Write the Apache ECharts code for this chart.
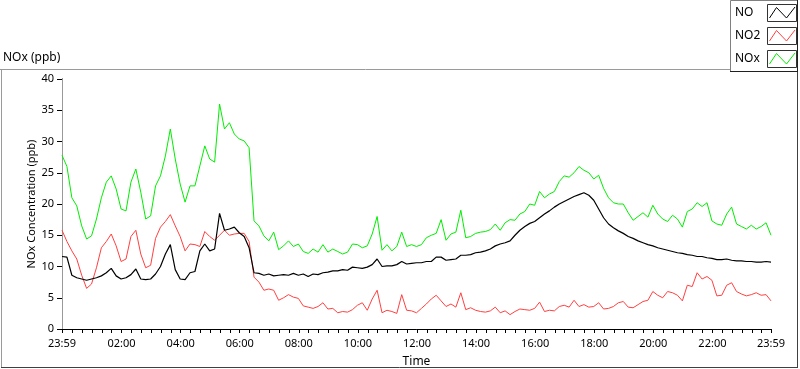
<!DOCTYPE html>
<html><head><meta charset="utf-8">
<script src="https://cdn.jsdelivr.net/npm/echarts@6/dist/echarts.min.js"></script>
<style>html,body{margin:0;padding:0;background:#fff}#c{width:800px;height:369px}</style>
</head><body><div id="c"></div>
<script>
// ---- data ----
const seriesNames = ['NO', 'NO2', 'NOx'];
const stepMinutes = 10; // samples every 10 min, starting at 23:59
const noxValues = [
  27.8, 26.0, 21.0, 19.7, 16.5, 14.4, 14.9, 17.6, 21.0, 23.5,
  24.5, 22.4, 19.2, 18.9, 23.5, 25.6, 21.9, 17.6, 18.1, 22.9,
  24.5, 27.7, 32.0, 27.2, 23.2, 20.3, 22.9, 22.9, 26.1, 29.3,
  27.2, 26.7, 36.0, 32.0, 33.0, 31.2, 30.4, 30.1, 29.0, 17.3,
  16.5, 14.9, 14.1, 15.5, 12.7, 13.3, 14.1, 13.2, 13.6, 12.4,
  12.1, 12.8, 12.3, 13.5, 12.3, 12.8, 12.4, 12.0, 12.3, 13.6,
  13.5, 13.0, 13.3, 15.2, 18.0, 12.6, 13.5, 12.5, 13.2, 15.5,
  13.2, 13.5, 13.2, 13.5, 14.6, 15.0, 15.3, 17.5, 14.2, 15.2,
  15.5, 19.0, 14.6, 14.8, 15.3, 15.5, 15.6, 15.9, 16.8, 15.8,
  17.0, 17.5, 17.4, 18.4, 18.8, 20.0, 19.8, 22.0, 21.0, 21.6,
  22.0, 23.6, 24.5, 24.3, 25.0, 26.0, 25.4, 25.0, 24.0, 24.6,
  22.5, 21.0, 20.2, 20.0, 20.0, 18.6, 17.4, 18.0, 18.6, 17.9,
  19.8, 18.4, 17.6, 17.2, 18.2, 17.6, 16.3, 18.8, 19.2, 20.2,
  19.6, 20.2, 17.3, 16.8, 16.6, 18.4, 19.5, 16.8, 16.4, 16.0,
  16.6, 16.0, 16.4, 17.0, 15.0
];
const noValues = [
  11.6, 11.5, 8.6, 8.2, 8.0, 7.8, 8.0, 8.2, 8.5, 9.0,
  9.7, 8.5, 8.0, 8.2, 8.7, 9.6, 8.0, 7.9, 8.0, 8.8,
  10.0, 12.0, 13.5, 9.5, 8.0, 7.9, 9.0, 9.2, 12.5, 13.6,
  12.5, 12.8, 18.5, 15.8, 16.0, 16.3, 15.4, 14.8, 13.0, 9.0,
  8.9, 8.6, 8.8, 8.5, 8.6, 8.7, 8.6, 8.9, 8.6, 8.8,
  8.4, 8.8, 8.7, 9.0, 9.1, 9.3, 9.3, 9.5, 9.4, 9.9,
  9.8, 9.7, 9.9, 10.3, 11.2, 10.0, 10.1, 10.1, 10.3, 10.8,
  10.4, 10.5, 10.6, 10.6, 10.8, 10.8, 11.5, 11.5, 11.0, 11.1,
  11.2, 11.8, 11.8, 11.9, 12.2, 12.3, 12.5, 12.8, 13.3, 13.6,
  13.8, 14.1, 15.0, 15.8, 16.4, 16.9, 17.2, 17.8, 18.4, 18.9,
  19.5, 20.0, 20.4, 20.8, 21.2, 21.5, 21.8, 21.4, 20.6, 19.2,
  17.8, 16.8, 16.2, 15.7, 15.3, 14.8, 14.5, 14.1, 13.8, 13.5,
  13.3, 13.0, 12.8, 12.6, 12.4, 12.2, 12.1, 11.9, 11.8, 11.6,
  11.6, 11.4, 11.3, 11.1, 11.1, 11.2, 11.0, 10.9, 10.9, 10.8,
  10.8, 10.7, 10.7, 10.8, 10.7
];
const no2Values = [
  15.8, 14.0, 12.5, 11.2, 8.6, 6.5, 7.2, 9.8, 13.0, 14.0,
  15.2, 13.3, 10.8, 11.2, 14.8, 15.8, 12.0, 9.8, 10.2, 14.5,
  16.3, 17.2, 18.3, 16.5, 14.8, 12.5, 13.6, 13.5, 13.2, 15.6,
  14.8, 14.2, 15.0, 15.8, 15.0, 15.2, 15.3, 15.3, 14.0, 8.3,
  7.5, 6.2, 6.4, 6.2, 4.6, 5.0, 5.5, 5.1, 4.9, 3.7,
  3.5, 3.3, 3.6, 4.2, 3.2, 3.3, 2.6, 2.8, 2.7, 3.1,
  3.8, 4.2, 3.0, 4.8, 6.2, 2.6, 3.0, 2.8, 2.5, 5.5,
  3.0, 2.9, 2.6, 3.3, 4.0, 4.8, 5.4, 4.5, 3.6, 4.0,
  3.5, 5.8, 3.1, 3.4, 3.0, 2.8, 2.7, 2.9, 3.5, 2.6,
  2.9, 2.3, 2.8, 3.2, 3.1, 3.0, 3.3, 4.3, 2.8, 3.0,
  2.9, 3.6, 3.8, 3.5, 4.6, 3.6, 3.9, 3.5, 3.6, 4.2,
  3.2, 3.3, 3.6, 4.2, 4.4, 3.5, 3.4, 3.9, 4.4, 4.6,
  6.0, 5.4, 5.0, 6.0, 5.8, 5.4, 4.5, 7.0, 6.8, 9.0,
  8.0, 8.4, 7.8, 5.3, 5.4, 7.0, 7.4, 6.0, 5.6, 5.3,
  5.5, 5.8, 5.4, 5.5, 4.5
];
// x tick labels: minutes after the 23:59 start
const xLabelOffsets = [0, 121, 241, 361, 481, 601, 721, 841, 961, 1081, 1201, 1321, 1440];
const yTicks = [0, 5, 10, 15, 20, 25, 30, 35, 40];

// ---- styles ----
const colors = { NO: '#000000', NO2: '#ff4040', NOx: '#00ee00' };
const FONT = 'Noto Sans';

function toPairs(vals) { return vals.map((v, i) => [i * stepMinutes, v]); }
function fmtClock(off) {
  const m = (off + 1439) % 1440;
  const h = Math.floor(m / 60), mm = m % 60;
  return String(h).padStart(2, '0') + ':' + String(mm).padStart(2, '0');
}
const minorTicks = [0];
for (let t = 21; t <= 1421; t += 20) minorTicks.push(t);
minorTicks.push(1440);

const chart = echarts.init(document.getElementById('c'), null, { renderer: 'canvas' });

function legendItem(name, idx) {
  const y0 = 4.5 + idx * 23;
  return [
    { type: 'text', left: 735, top: y0 + 2, style: { text: name, font: '12px "' + FONT + '"', fill: '#000' } },
    { type: 'rect', shape: { x: 767.5, y: y0, width: 29, height: 17 }, style: { fill: '#fff', stroke: '#333', lineWidth: 1 } },
    { type: 'polyline', shape: { points: [[769.5, y0 + 13.5], [776.5, y0 + 3], [786.5, y0 + 13.5], [795, y0 + 2.5]] }, style: { stroke: colors[name], lineWidth: 1, fill: null } }
  ];
}

const option = {
  backgroundColor: '#fff',
  animation: false,
  textStyle: { fontFamily: FONT },
  grid: { left: 62, top: 79, right: 29, bottom: 40, containLabel: false, outerBoundsMode: 'none' },
  xAxis: [{
    type: 'value', min: 0, max: 1440,
    name: 'Time', nameLocation: 'middle', nameGap: 27, nameMoveOverlap: false,
    nameTextStyle: { fontSize: 12, color: '#000', fontFamily: FONT },
    axisLine: { show: true, lineStyle: { color: '#555', width: 1 } },
    axisTick: { show: true, length: 4, inside: false, customValues: minorTicks, lineStyle: { color: '#000' } },
    axisLabel: { customValues: xLabelOffsets, formatter: v => fmtClock(v), fontSize: 11, color: '#000', margin: 9, hideOverlap: false, fontFamily: FONT },
    splitLine: { show: false }
  }, {
    type: 'value', min: 0, max: 1440, position: 'top',
    axisLine: { show: true, lineStyle: { color: '#000', width: 1 } },
    axisTick: { show: false }, axisLabel: { show: false }, splitLine: { show: false }
  }],
  yAxis: [{
    type: 'value', min: 0, max: 40, interval: 5,
    name: 'NOx Concentration (ppb)', nameLocation: 'middle', nameGap: 25, nameRotate: 90, nameMoveOverlap: false,
    nameTextStyle: { fontSize: 11, color: '#000', fontFamily: FONT },
    axisLine: { show: true, lineStyle: { color: '#000', width: 1 } },
    axisTick: { show: true, length: 5, lineStyle: { color: '#000' } },
    axisLabel: { fontSize: 11, color: '#000', margin: 8, fontFamily: FONT },
    splitLine: { show: false }
  }, {
    type: 'value', min: 0, max: 40, position: 'right',
    axisLine: { show: true, lineStyle: { color: '#999', width: 1 } },
    axisTick: { show: false }, axisLabel: { show: false }, splitLine: { show: false }
  }],
  series: [
    { name: 'NOx', type: 'line', data: toPairs(noxValues), showSymbol: false, symbol: 'none', lineStyle: { color: colors.NOx, width: 1 }, itemStyle: { color: colors.NOx }, z: 2 },
    { name: 'NO2', type: 'line', data: toPairs(no2Values), showSymbol: false, symbol: 'none', lineStyle: { color: colors.NO2, width: 1 }, itemStyle: { color: colors.NO2 }, z: 3 },
    { name: 'NO', type: 'line', data: toPairs(noValues), showSymbol: false, symbol: 'none', lineStyle: { color: colors.NO, width: 1.2 }, itemStyle: { color: colors.NO }, z: 4 }
  ],
  graphic: [
    // outer frame
    { type: 'line', shape: { x1: 0, y1: 69.5, x2: 731, y2: 69.5 }, style: { stroke: '#9a9a9a', lineWidth: 1 } },
    { type: 'line', shape: { x1: 1.5, y1: 69, x2: 1.5, y2: 367 }, style: { stroke: '#9a9a9a', lineWidth: 1 } },
    { type: 'line', shape: { x1: 1, y1: 367.5, x2: 798, y2: 367.5 }, style: { stroke: '#404040', lineWidth: 1 } },
    { type: 'line', shape: { x1: 797.5, y1: 72, x2: 797.5, y2: 368 }, style: { stroke: '#404040', lineWidth: 1 } },
    // chart title
    { type: 'text', left: 3, top: 52, style: { text: 'NOx (ppb)', font: '12px "' + FONT + '"', fill: '#000' } },
    // legend box
    { type: 'rect', shape: { x: 730.5, y: 0.5, width: 67, height: 71 }, style: { fill: '#fff', stroke: '#808080', lineWidth: 1 } },
    { type: 'line', shape: { x1: 797.5, y1: 0, x2: 797.5, y2: 72 }, style: { stroke: '#202020', lineWidth: 1 } },
    { type: 'line', shape: { x1: 730, y1: 71.5, x2: 798, y2: 71.5 }, style: { stroke: '#202020', lineWidth: 1 } },
    ...seriesNames.flatMap((n, i) => legendItem(n, i))
  ]
};
chart.setOption(option);
</script></body></html>
